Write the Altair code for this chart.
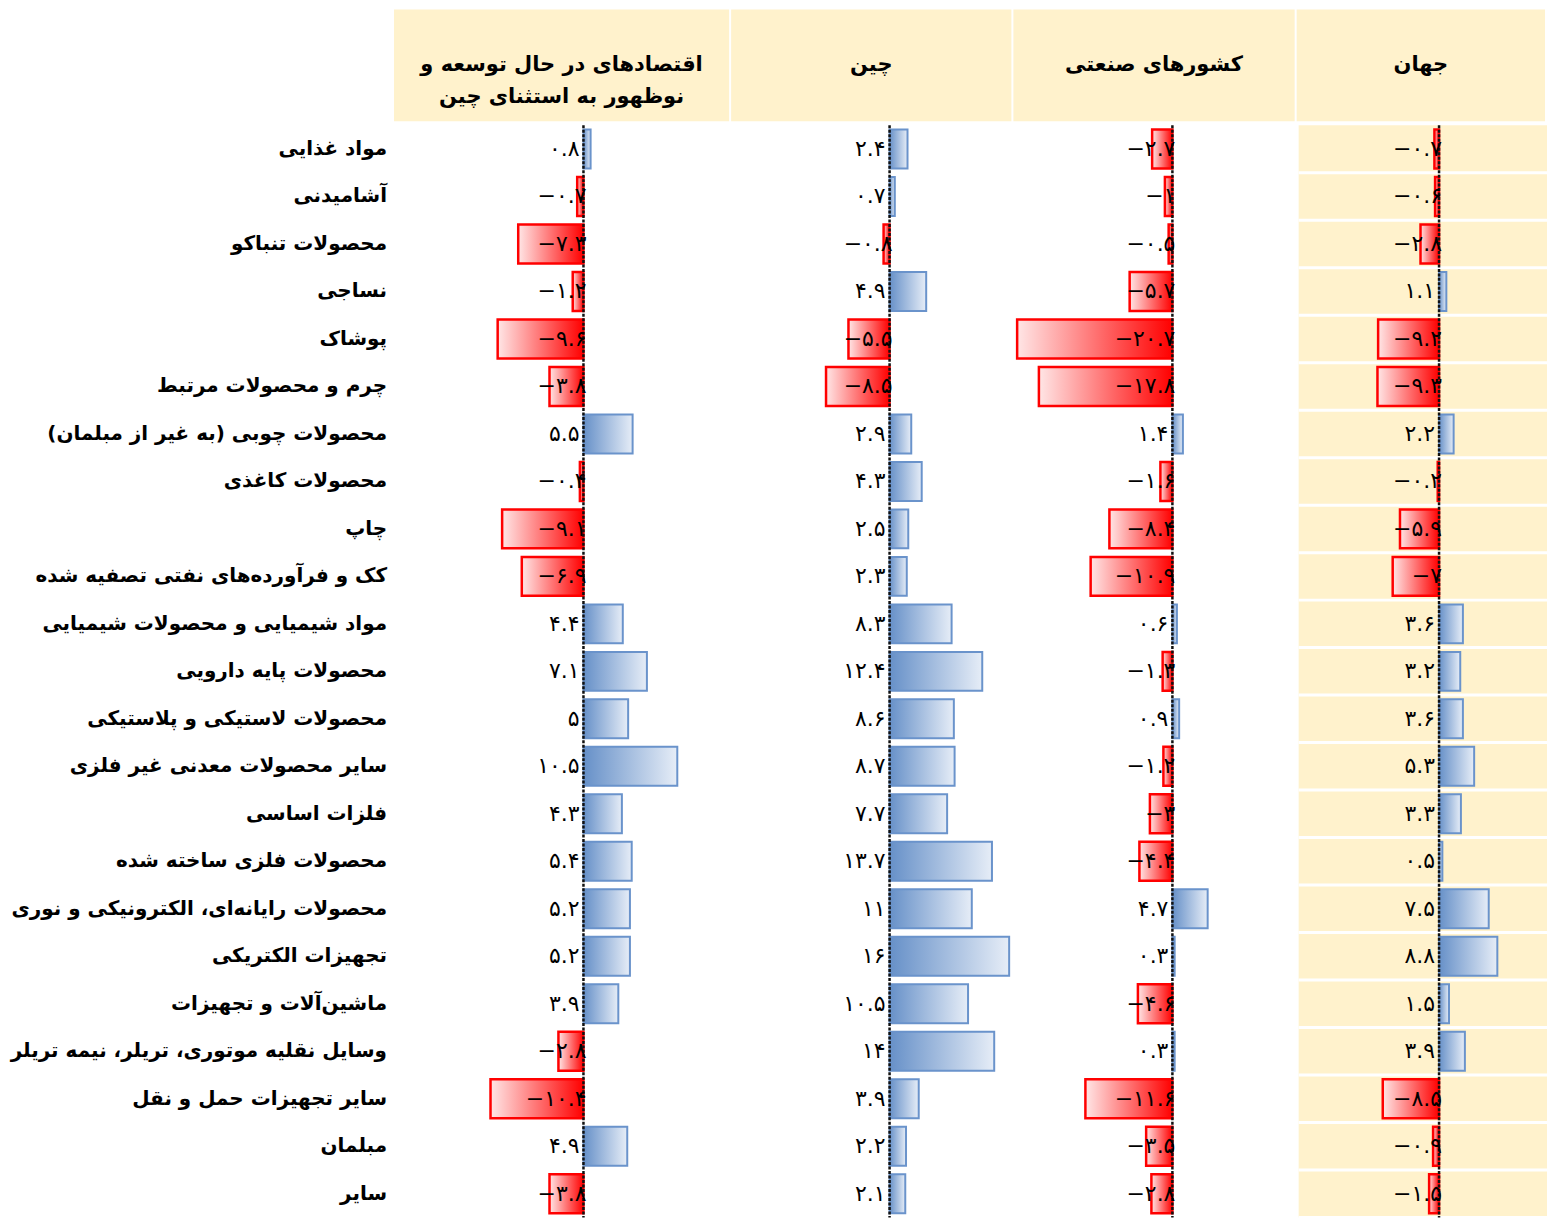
import altair as alt
import pandas as pd

categories = [
    "مواد غذایی",
    "آشامیدنی",
    "محصولات تنباکو",
    "نساجی",
    "پوشاک",
    "چرم و محصولات مرتبط",
    "محصولات چوبی (به غیر از مبلمان)",
    "محصولات کاغذی",
    "چاپ",
    "کک و فرآورده‌های نفتی تصفیه شده",
    "مواد شیمیایی و محصولات شیمیایی",
    "محصولات پایه دارویی",
    "محصولات لاستیکی و پلاستیکی",
    "سایر محصولات معدنی غیر فلزی",
    "فلزات اساسی",
    "محصولات فلزی ساخته شده",
    "محصولات رایانه‌ای، الکترونیکی و نوری",
    "تجهیزات الکتریکی",
    "ماشین‌آلات و تجهیزات",
    "وسایل نقلیه موتوری، تریلر، نیمه تریلر",
    "سایر تجهیزات حمل و نقل",
    "مبلمان",
    "سایر",
]

developing = [0.8, -0.7, -7.3, -1.2, -9.6, -3.8, 5.5, -0.4, -9.1, -6.9, 4.4, 7.1, 5,
              10.5, 4.3, 5.4, 5.2, 5.2, 3.9, -2.8, -10.4, 4.9, -3.8]
china = [2.4, 0.7, -0.8, 4.9, -5.5, -8.5, 2.9, 4.3, 2.5, 2.3, 8.3, 12.4, 8.6,
         8.7, 7.7, 13.7, 11, 16, 10.5, 14, 3.9, 2.2, 2.1]
industrial = [-2.7, -1, -0.5, -5.7, -20.7, -17.8, 1.4, -1.6, -8.4, -10.9, 0.6, -1.3, 0.9,
              -1.2, -3, -4.4, 4.7, 0.3, -4.6, 0.3, -11.6, -3.5, -2.8]
world = [-0.7, -0.6, -2.8, 1.1, -9.2, -9.3, 2.2, -0.2, -5.9, -7, 3.6, 3.2, 3.6,
         5.3, 3.3, 0.5, 7.5, 8.8, 1.5, 3.9, -8.5, -0.9, -1.5]

headers = [
    ["اقتصادهای در حال توسعه و", "نوظهور به استثنای چین"],
    ["چین"],
    ["کشورهای صنعتی"],
    ["جهان"],
]

FONT = "DejaVu Sans"
CREAM = "#FFF2CC"
LABEL_W = 385
PANEL_W = [336, 281, 282, 249]
HEADER_H = 112
BODY_H = 1095
STEP = BODY_H / len(categories)

FA = str.maketrans("0123456789-", "۰۱۲۳۴۵۶۷۸۹−")


def fa(v):
    return f"{v:g}".translate(FA)


RLM = "\u200f"
yscale = alt.Scale(domain=categories, paddingInner=0.18, paddingOuter=0.09)
xscale = alt.Scale(domain=[-21.2, 16.3], nice=False, zero=False)

blue_grad = alt.LinearGradient(
    gradient="linear", x1=0, x2=1, y1=0, y2=0,
    stops=[alt.GradientStop(color="#6690C8", offset=0),
           alt.GradientStop(color="#E6EDF7", offset=1)])
red_grad = alt.LinearGradient(
    gradient="linear", x1=0, x2=1, y1=0, y2=0,
    stops=[alt.GradientStop(color="#FFE6E6", offset=0),
           alt.GradientStop(color="#FF0000", offset=1)])


def header(lines, w, fill):
    c = alt.Chart(pd.DataFrame({"t": [0]})).mark_text(
        text=[RLM + s + RLM for s in lines] if lines else "",
        font=FONT, fontSize=21, fontWeight="bold", lineHeight=32,
        align="center", baseline="middle", color="black",
    ).encode(x=alt.value(w / 2), y=alt.value(HEADER_H / 2))
    return c.properties(width=w, height=HEADER_H,
                        view=alt.ViewBackground(fill=fill, strokeWidth=0))


def panel(vals, w, bg):
    df = pd.DataFrame({"cat": categories, "v": vals,
                       "label": [fa(v) for v in vals]})
    base = alt.Chart(df)
    y = alt.Y("cat:N", sort=categories, scale=yscale, axis=None)
    x = alt.X("v:Q", scale=xscale, axis=None)
    layers = []
    if bg:
        layers.append(base.mark_rule(color="white", strokeWidth=3, yOffset=STEP / 2).encode(
            y=y, x=alt.value(0), x2=alt.value(w)))
    layers.append(base.transform_filter("datum.v > 0").mark_bar(
        fill=blue_grad, stroke="#6A93CB", strokeWidth=2).encode(x=x, y=y))
    layers.append(base.transform_filter("datum.v < 0").mark_bar(
        fill=red_grad, stroke="#FF0000", strokeWidth=2.5).encode(x=x, y=y))
    layers.append(alt.Chart(pd.DataFrame({"z": [0]})).mark_rule(
        color="#111111", strokeWidth=2.5, strokeDash=[3, 1.5]).encode(
        x=alt.X("z:Q", scale=xscale, axis=None)))
    layers.append(base.transform_filter("datum.v >= 0").mark_text(
        align="right", baseline="middle", dx=-4, font=FONT, fontSize=22, color="black").encode(
        x=alt.X("zero:Q", scale=xscale, axis=None), y=y, text="label:N").transform_calculate(zero="0"))
    layers.append(base.transform_filter("datum.v < 0").mark_text(
        align="right", baseline="middle", dx=3, font=FONT, fontSize=22, color="black").encode(
        x=alt.X("zero:Q", scale=xscale, axis=None), y=y, text="label:N").transform_calculate(zero="0"))
    return alt.layer(*layers).properties(
        width=w, height=BODY_H,
        view=alt.ViewBackground(fill=CREAM if bg else "white", strokeWidth=0))


label_df = pd.DataFrame({"cat": categories, "name": [RLM + c + RLM for c in categories]})
label_col = alt.Chart(label_df).mark_text(
    align="right", baseline="middle", font=FONT, fontSize=20, fontWeight="bold", color="black"
).encode(
    y=alt.Y("cat:N", sort=categories, scale=yscale, axis=None),
    x=alt.value(LABEL_W - 5),
    text="name:N",
).properties(width=LABEL_W, height=BODY_H, view=alt.ViewBackground(fill="white", strokeWidth=0))

header_row = alt.hconcat(
    header([], LABEL_W, "white"),
    *[header(h, w, CREAM) for h, w in zip(headers, PANEL_W)],
    spacing=2,
)
body_row = alt.hconcat(
    label_col,
    panel(developing, PANEL_W[0], False),
    panel(china, PANEL_W[1], False),
    panel(industrial, PANEL_W[2], False),
    panel(world, PANEL_W[3], True),
    spacing=2,
)

chart = alt.vconcat(header_row, body_row, spacing=2).properties(
    padding=0, background="white"
).configure_view(strokeWidth=0)

chart.save("out.html", embed_options={"renderer": "svg", "actions": False})
